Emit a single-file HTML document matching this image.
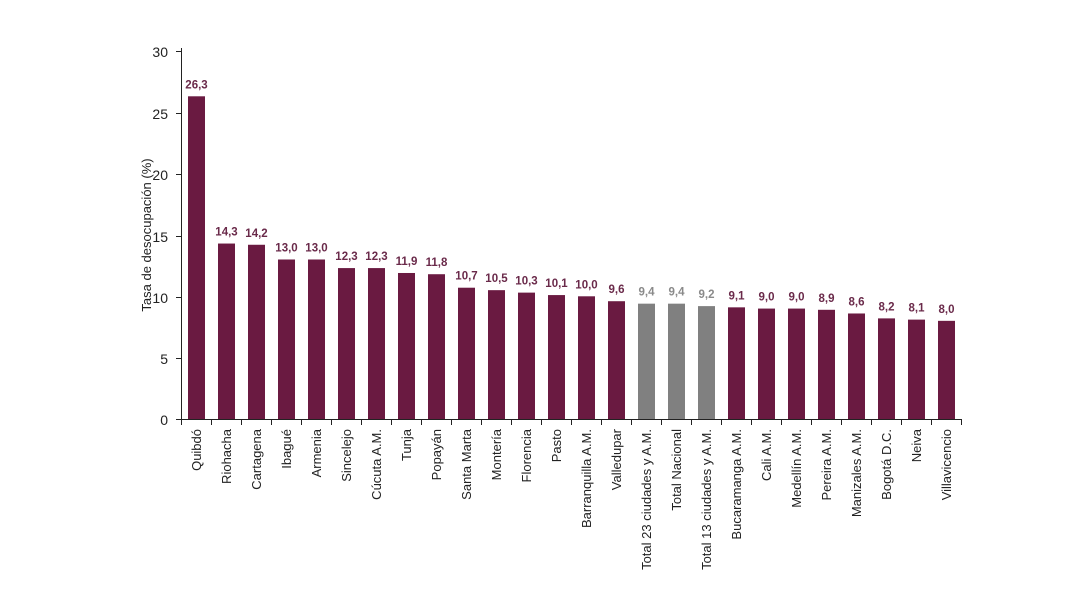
<!DOCTYPE html>
<html><head><meta charset="utf-8"><style>
body{margin:0;background:#fff;}
svg{display:block;font-family:"Liberation Sans",sans-serif;}
.t{font-size:14px;fill:#222;}
.v{font-size:11.5px;font-weight:bold;}
.c{font-size:13px;fill:#222;}
</style></head><body>
<svg width="1080" height="593" viewBox="0 0 1080 593">
<script>/* static */</script>
<g id="g"></g>
<line x1="181.5" y1="48" x2="181.5" y2="419.5" stroke="#222"/>
<line x1="181" y1="419.5" x2="961" y2="419.5" stroke="#222"/>
<g stroke="#222">
<line x1="176" y1="51.5" x2="181" y2="51.5"/><line x1="176" y1="113.5" x2="181" y2="113.5"/>
<line x1="176" y1="174.5" x2="181" y2="174.5"/><line x1="176" y1="236.5" x2="181" y2="236.5"/>
<line x1="176" y1="297.5" x2="181" y2="297.5"/><line x1="176" y1="358.5" x2="181" y2="358.5"/>
<line x1="176" y1="419.5" x2="181" y2="419.5"/>
</g>
<g class="t" text-anchor="end">
<text x="168" y="57">30</text><text x="168" y="119">25</text><text x="168" y="180">20</text>
<text x="168" y="242">15</text><text x="168" y="303">10</text><text x="168" y="364">5</text><text x="168" y="425">0</text>
</g>
<text class="t" transform="translate(151,235) rotate(-90)" text-anchor="middle" style="font-size:13px">Tasa de desocupación (%)</text>
<g id="bars"></g>
</svg>
<script>
var d=[["Quibdó",26.3],["Riohacha",14.3],["Cartagena",14.2],["Ibagué",13.0],["Armenia",13.0],["Sincelejo",12.3],["Cúcuta A.M.",12.3],["Tunja",11.9],["Popayán",11.8],["Santa Marta",10.7],["Montería",10.5],["Florencia",10.3],["Pasto",10.1],["Barranquilla A.M.",10.0],["Valledupar",9.6],["Total 23 ciudades y A.M.",9.4,1],["Total Nacional",9.4,1],["Total 13 ciudades y A.M.",9.2,1],["Bucaramanga A.M.",9.1],["Cali A.M.",9.0],["Medellín A.M.",9.0],["Pereira A.M.",8.9],["Manizales A.M.",8.6],["Bogotá D.C.",8.2],["Neiva",8.1],["Villavicencio",8.0]];
var s="",ns="http://www.w3.org/2000/svg";
d.forEach(function(e,i){var cx=196.5+30*i,h=e[1]*12.27,y=419-h;
var col=e[2]?"#808080":"#6a1a41",tc=e[2]?"#8a8a8a":"#6a2a4a";
s+='<rect x="'+(cx-8.5)+'" y="'+y+'" width="17" height="'+h+'" fill="'+col+'"/>';
s+='<text class="v" x="'+cx+'" y="'+(y-8)+'" text-anchor="middle" fill="'+tc+'">'+e[1].toFixed(1).replace(".",",")+'</text>';
s+='<line x1="'+(181.5+30*i)+'" y1="419" x2="'+(181.5+30*i)+'" y2="425" stroke="#222"/>';
s+='<text class="c" transform="translate('+(cx+4.5)+',429) rotate(-90)" text-anchor="end">'+e[0]+'</text>';});
s+='<line x1="961.5" y1="419" x2="961.5" y2="425" stroke="#222"/>';
document.getElementById("bars").innerHTML=s;
</script>
</body></html>
